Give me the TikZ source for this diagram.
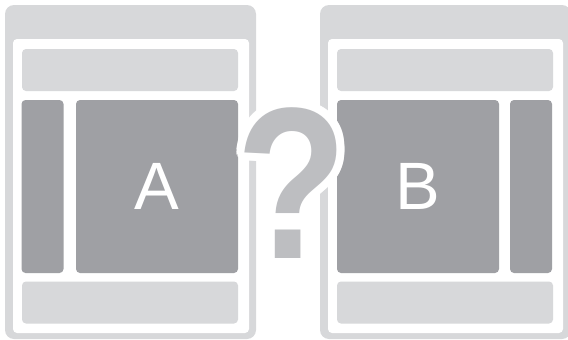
\documentclass[tikz,border=0pt]{standalone}
\usepackage{fontspec}
\setmainfont{Liberation Sans}
\definecolor{MKFrame}{HTML}{D7D8DA}
\definecolor{MKBlock}{HTML}{9FA0A4}
\definecolor{MKMark}{HTML}{BDBEC1}
\tikzset{
  pageframe/.style={fill=MKFrame,rounded corners=9pt},
  sheet/.style={fill=white,rounded corners=4pt},
  bar/.style={fill=MKFrame,rounded corners=4pt,inner sep=0pt,
              minimum width=216pt,minimum height=42pt},
  block/.style={fill=MKBlock,rounded corners=4pt,inner sep=0pt,minimum height=173pt,
                text=white,font=\fontsize{67}{67}\selectfont},
  sidebar/.style={block,minimum width=42pt},
  mainblock/.style={block,minimum width=162pt},
  qmark/.style={anchor=base,inner sep=0pt,text=MKMark,xscale=0.84,
                font=\fontsize{216}{216}\selectfont\bfseries},
  qhalo/.style={qmark,text=white},
}

\begin{document}
\begin{tikzpicture}[x=1pt,y=-1pt]
    \useasboundingbox (0,0) rectangle (568,340);
    \clip (0,0) rectangle (568,340);

    \fill[pageframe] (5,5) rectangle (256,339);
    \fill[sheet] (13,39) rectangle (249,333);
    \node[bar] (headA) at (130,70) {};
    \node[sidebar] (sideA) at (42.5,186.5) {};
    \node[mainblock] (mainA) at (157,186.5) {A};
    \node[bar] (footA) at (130,302.5) {};

    \fill[pageframe] (320,5) rectangle (571,339);
    \fill[sheet] (328,39) rectangle (563,333);
    \node[bar] (headB) at (445,70) {};
    \node[mainblock] (mainB) at (418,186.5) {B};
    \node[sidebar] (sideB) at (531,186.5) {};
    \node[bar] (footB) at (445,302.5) {};

    \coordinate (mark) at (292,258);
    \foreach \a in {0,15,...,345}
      \node[qhalo] at ([shift={(\a:8)}]mark) {?};
    \node[qmark] (quest) at (mark) {?};
  \end{tikzpicture}
\end{document}
